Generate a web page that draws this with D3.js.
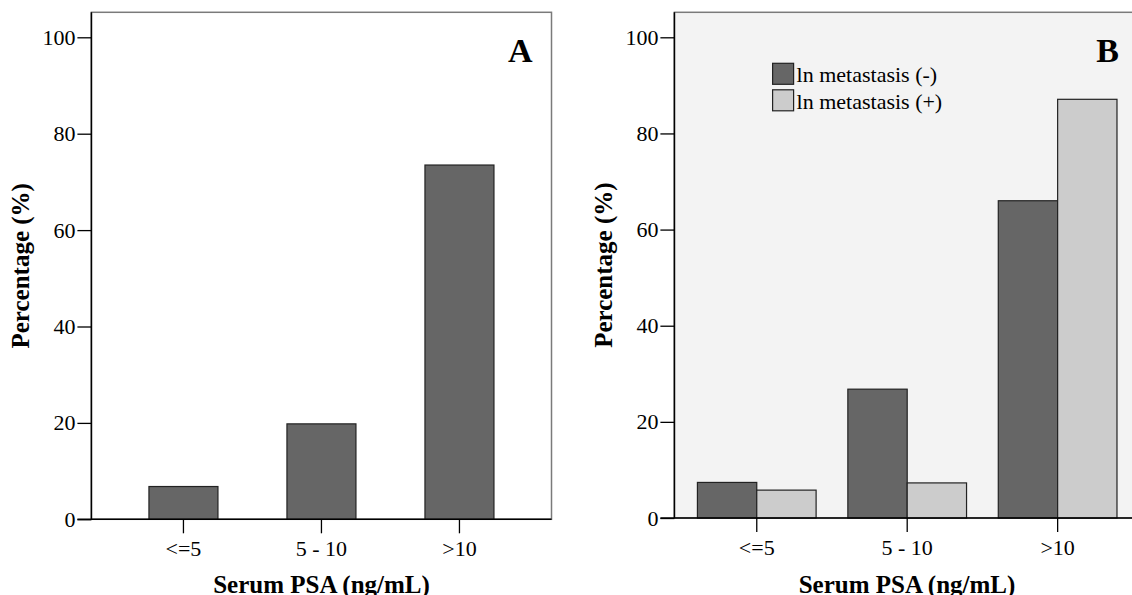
<!DOCTYPE html>
<html>
<head>
<meta charset="utf-8">
<script src="https://cdn.jsdelivr.net/npm/d3@7"></script>
<style>
  body { margin: 0; background: #fff; }
</style>
</head>
<body>
<div id="svgDiv"></div>
<script>
// data
var categories = ["<=5", "5 - 10", ">10"];
var valuesA = [6.8, 19.8, 73.5];
var valuesBNeg = [7.4, 26.8, 66.0];
var valuesBPos = [5.8, 7.3, 87.1];
var seriesNames = ["ln metastasis (-)", "ln metastasis (+)"];
var yTicks = [0, 20, 40, 60, 80, 100];

var FONT = "'Liberation Serif', 'Times New Roman', serif";

var svg = d3.select("#svgDiv").append("svg")
            .attr("width", 1132)
            .attr("height", 595);

function drawPanel(opt){
  var g = svg.append("g");
  var y = d3.scaleLinear().domain([0, 100]).range([opt.zero, 37.3]);
  var top = 12.3;

  //plot background + frame
  g.append("rect")
   .attr("x", opt.left).attr("y", top)
   .attr("width", opt.right - opt.left).attr("height", opt.zero - top)
   .attr("fill", opt.bg)
   .attr("stroke", "#7a7a7a")
   .attr("stroke-width", 1.5);

  var x = d3.scaleBand().domain(categories)
            .range([opt.left, opt.right])
            .paddingInner(opt.pi).paddingOuter(opt.po);

  //bars
  opt.series.forEach(function(s, si){
    var w = x.bandwidth() / opt.series.length;
    g.selectAll(".bar" + si).data(s.values).enter().append("rect")
     .attr("x", function(d, i){ return x(categories[i]) + si * w; })
     .attr("y", function(d){ return y(d); })
     .attr("width", w)
     .attr("height", function(d){ return y(0) - y(d); })
     .attr("fill", s.color)
     .attr("stroke", "#222")
     .attr("stroke-width", 1.2);
  });

  //axes
  var yAxis = d3.axisLeft(y).tickValues(yTicks).tickSize(14).tickPadding(2);
  var ya = g.append("g").attr("transform", "translate(" + opt.left + ",0)").call(yAxis);
  ya.select(".domain").remove();
  ya.selectAll("line").attr("stroke", "#000").attr("stroke-width", 1.3);
  ya.selectAll("text").attr("font-size", 22).style("font-family", FONT);

  var xAxis = d3.axisBottom(x).tickSize(14).tickPadding(7);
  var xa = g.append("g").attr("transform", "translate(0," + opt.zero + ")").call(xAxis);
  xa.select(".domain").remove();
  xa.selectAll("line").attr("stroke", "#000").attr("stroke-width", 1.3);
  xa.selectAll("text").attr("font-size", 22).style("font-family", FONT);

  //black left + bottom axis lines
  g.append("line").attr("x1", opt.left).attr("x2", opt.left)
   .attr("y1", top).attr("y2", opt.zero)
   .attr("stroke", "#000").attr("stroke-width", 1.5);
  g.append("line").attr("x1", opt.left - 14).attr("x2", opt.right)
   .attr("y1", opt.zero).attr("y2", opt.zero)
   .attr("stroke", "#000").attr("stroke-width", 1.5);

  //titles
  g.append("text")
   .attr("x", opt.titleX)
   .attr("y", 593)
   .attr("text-anchor", "middle")
   .attr("font-size", 25).attr("font-weight", "bold")
   .style("font-family", FONT)
   .text("Serum PSA (ng/mL)");
  g.append("text")
   .attr("transform", "translate(" + (opt.left - 62.5) + "," + ((top + opt.zero) / 2) + ") rotate(-90)")
   .attr("text-anchor", "middle")
   .attr("font-size", 25).attr("font-weight", "bold")
   .style("font-family", FONT)
   .text("Percentage (%)");

  //panel letter
  g.append("text")
   .attr("x", opt.right - opt.letterGap).attr("y", 61.5)
   .attr("text-anchor", "end")
   .attr("font-size", 34).attr("font-weight", "bold")
   .style("font-family", FONT)
   .text(opt.letter);

  return { g: g, x: x, y: y };
}

drawPanel({
  left: 91.4, right: 551.5, zero: 519.3, bg: "#ffffff",
  pi: 0.5, po: 0.417, letter: "A", letterGap: 19, titleX: 321.5,
  series: [{ values: valuesA, color: "#666666" }]
});

var pB = drawPanel({
  left: 674.4, right: 1140, zero: 518, bg: "#f3f3f3",
  pi: 0.211, po: 0.153, letter: "B", letterGap: 21, titleX: 907,
  series: [{ values: valuesBNeg, color: "#666666" },
           { values: valuesBPos, color: "#cccccc" }]
});

//legend for B
var legendColors = ["#666666", "#cccccc"];
var legend = pB.g.append("g").attr("transform", "translate(772.6,63.3)");
seriesNames.forEach(function(name, i){
  legend.append("rect")
        .attr("x", 0).attr("y", i * 26.5)
        .attr("width", 21).attr("height", 21)
        .attr("fill", legendColors[i])
        .attr("stroke", "#222").attr("stroke-width", 1.2);
  legend.append("text")
        .attr("x", 24).attr("y", i * 26.5 + 19)
        .attr("font-size", 22)
        .style("font-family", FONT)
        .text(name);
});
</script>
</body>
</html>
